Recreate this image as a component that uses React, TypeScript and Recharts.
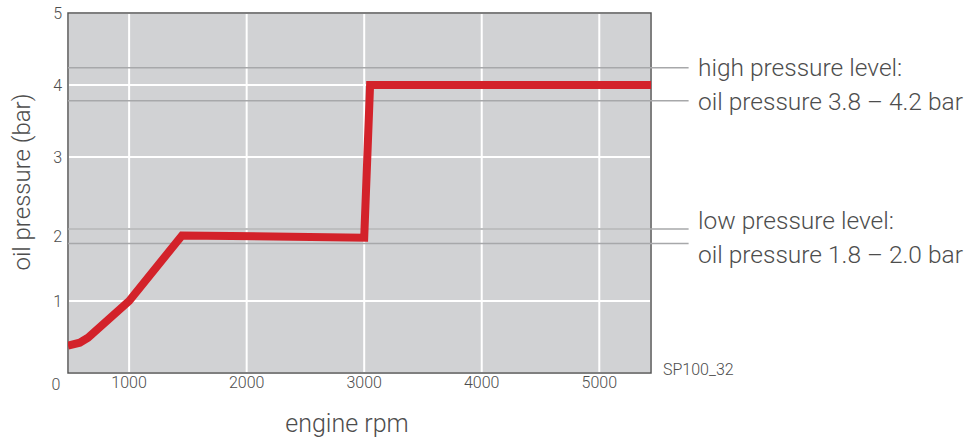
import React from 'react';
import {
  LineChart,
  Line,
  XAxis,
  YAxis,
  CartesianGrid,
  ReferenceLine,
  ReferenceArea,
} from 'recharts';

// readings (rpm -> bar)
const rpm = [480, 580, 650, 1000, 1450, 3000, 3050, 5440];
const pressure = [0.38, 0.42, 0.49, 1.0, 1.91, 1.88, 4.0, 4.0];

const xTicks = [1000, 2000, 3000, 4000, 5000];
const yTicks = [0, 1, 2, 3, 4, 5];

// guide lines as drawn in the picture
const highBand = [3.78, 4.24];
const lowBand = [1.8, 2.0];

const X_MIN = 480;
const X_MAX = 5440;
const LINE_END = 5760; // guide lines run out past the plot to the notes

const FONT = 'Roboto, "Open Sans", sans-serif';
const TEXT = '#4d4d4d';

const data = rpm.map((r, i) => ({ rpm: r, bar: pressure[i] }));

const YTick = ({ x, y, payload }: any) => {
  if (payload.value === 0) {
    return (
      <text x={x - 6} y={y + 17} textAnchor="middle" fontSize={16} fill={TEXT} fontFamily={FONT} fontWeight={300}>
        0
      </text>
    );
  }
  const dy = payload.value === 2 ? 13 : 6;
  return (
    <text x={x} y={y + dy} textAnchor="end" fontSize={16} fill={TEXT} fontFamily={FONT} fontWeight={300}>
      {payload.value}
    </text>
  );
};

export default function App() {
  return (
    <div style={{ position: 'absolute', left: 0, top: 0, width: 968, height: 441, background: '#fff' }}>
      <LineChart width={968} height={441} data={data} margin={{ top: 13, right: 317, left: 8, bottom: 38 }}>
        <CartesianGrid fill="#d1d2d4" fillOpacity={1} stroke="#ffffff" strokeWidth={2} />
        <XAxis
          dataKey="rpm"
          type="number"
          domain={[X_MIN, X_MAX]}
          ticks={xTicks}
          allowDataOverflow
          height={30}
          axisLine={false}
          tickLine={false}
          tickSize={0}
          tickMargin={4}
          tick={{ fontSize: 16, fill: TEXT, fontFamily: FONT, fontWeight: 300 }}
        />
        <YAxis
          type="number"
          domain={[0, 5]}
          ticks={yTicks}
          width={60}
          axisLine={false}
          tickLine={false}
          tickSize={6}
          tickMargin={0}
          tick={<YTick />}
        />
        <ReferenceArea x1={X_MIN} x2={X_MAX} y1={0} y2={5} fill="none" stroke="#555555" strokeWidth={1.5} />
        {[...highBand, ...lowBand].map((v) => (
          <ReferenceLine
            key={v}
            segment={[{ x: X_MIN, y: v }, { x: LINE_END, y: v }]}
            ifOverflow="visible"
            stroke="#a7a8aa"
            strokeWidth={1.5}
          />
        ))}
        <Line
          type="linear"
          dataKey="bar"
          stroke="#d3222a"
          strokeWidth={8}
          strokeLinejoin="miter"
          dot={false}
          isAnimationActive={false}
        />
        <text x={22} y={182} transform="rotate(-90 22 182)" textAnchor="middle" dominantBaseline="central" fontSize={24} fill={TEXT} fontFamily={FONT} fontWeight={300}>
          oil pressure (bar)
        </text>
        <text x={347} y={432} textAnchor="middle" fontSize={25} fill={TEXT} fontFamily={FONT} fontWeight={300}>
          engine rpm
        </text>
        <text x={663} y={375} fontSize={16} fill={TEXT} fontFamily={FONT} fontWeight={300}>
          SP100_32
        </text>
        <text x={698} y={76} fontSize={24.5} fill={TEXT} fontFamily={FONT} fontWeight={300}>
          high pressure level:
        </text>
        <text x={698} y={110} fontSize={24.5} fill={TEXT} fontFamily={FONT} fontWeight={300}>
          oil pressure 3.8 – 4.2 bar
        </text>
        <text x={698} y={229} fontSize={24.5} fill={TEXT} fontFamily={FONT} fontWeight={300}>
          low pressure level:
        </text>
        <text x={698} y={263} fontSize={24.5} fill={TEXT} fontFamily={FONT} fontWeight={300}>
          oil pressure 1.8 – 2.0 bar
        </text>
      </LineChart>
    </div>
  );
}
